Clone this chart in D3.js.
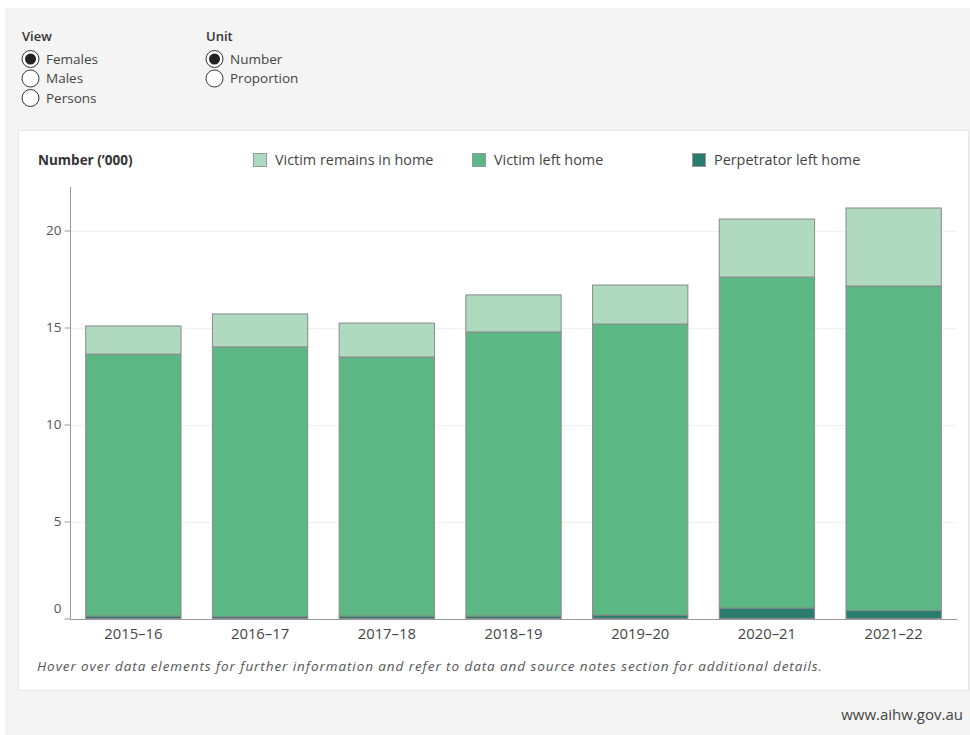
<!DOCTYPE html>
<html><head><meta charset="utf-8">
<script src="https://cdn.jsdelivr.net/npm/d3@7"></script>
<style>
body{margin:0;padding:0;background:#fff;}
svg{display:block;font-family:"Open Sans","Noto Sans",sans-serif;}
</style></head>
<body>
<svg id="c" width="970" height="735"></svg>
<script>
const years = ["2015–16","2016–17","2017–18","2018–19","2019–20","2020–21","2021–22"];
const perpetratorLeft = [0.13, 0.10, 0.13, 0.13, 0.18, 0.54, 0.42];
const victimLeft = [13.50, 13.90, 13.35, 14.64, 15.00, 17.06, 16.72];
const victimRemains = [1.45, 1.70, 1.75, 1.91, 2.01, 2.99, 4.02];
const seriesNames = ["Perpetrator left home","Victim left home","Victim remains in home"];
const seriesColors = ["#2b7d6f","#5bb784","#b0dac0"];
const yTicks = [0,5,10,15,20];
const viewOptions = ["Females","Males","Persons"];
const unitOptions = ["Number","Proportion"];
const FONT = "'Open Sans','Noto Sans',sans-serif";

const svg = d3.select("#c");
svg.append("rect").attr("x",5).attr("y",8).attr("width",965).attr("height",727).attr("fill","#f4f4f4");
svg.append("rect").attr("x",18.5).attr("y",130.5).attr("width",950).attr("height",560).attr("fill","#fff").attr("stroke","#e6e6e6");

function radioGroup(x, title, opts, sel){
  svg.append("text").attr("x",x).attr("y",41).attr("font-size",13).attr("fill","#333").attr("font-weight",600).text(title);
  opts.forEach((o,i)=>{
    const cy = 59 + i*19.5;
    svg.append("circle").attr("cx",x+8.5).attr("cy",cy).attr("r",8.5).attr("fill","#fff").attr("stroke","#333").attr("stroke-width",1);
    if(i===sel) svg.append("circle").attr("cx",x+8.5).attr("cy",cy).attr("r",5.5).attr("fill","#222");
    svg.append("text").attr("x",x+24).attr("y",cy+4.5).attr("font-size",13.5).attr("fill","#444").text(o);
  });
}
radioGroup(22,"View",viewOptions,0);
radioGroup(206,"Unit",unitOptions,0);

const x = d3.scaleBand().domain(years).range([70,957]).paddingInner(0.24).paddingOuter(0.12);
const y = d3.scaleLinear().domain([0,20]).range([618.5,230.5]);

svg.append("g").selectAll("line").data(yTicks.filter(d=>d>0)).join("line")
  .attr("x1",70).attr("x2",957).attr("y1",d=>Math.round(y(d))+0.5).attr("y2",d=>Math.round(y(d))+0.5)
  .attr("stroke","#f0f0f0");

const data = years.map((yr,i)=>({year:yr, p:perpetratorLeft[i], v:victimLeft[i], r:victimRemains[i]}));
const stack = d3.stack().keys(["p","v","r"])(data);
svg.append("g").selectAll("g").data(stack).join("g").attr("fill",(d,i)=>seriesColors[i])
  .selectAll("rect").data(d=>d).join("rect")
  .attr("x",d=>x(d.data.year)+0.5).attr("width",x.bandwidth()-1)
  .attr("y",d=>y(d[1])).attr("height",d=>y(d[0])-y(d[1]))
  .attr("stroke","#8a8a8a").attr("stroke-width",1);

const ya = svg.append("g").attr("transform","translate(70.5,0)")
  .call(d3.axisLeft(y).tickValues(yTicks).tickSize(6).tickFormat(d3.format("d")));
ya.select(".domain").remove();
ya.selectAll(".tick line").attr("stroke","#999");
ya.selectAll(".tick text").attr("font-family",FONT).attr("font-size",13.5).attr("fill","#555").attr("x",-9);
ya.selectAll(".tick").filter(d=>d===0).select("text").attr("dy","-0.45em");
svg.append("line").attr("x1",70.5).attr("x2",70.5).attr("y1",187).attr("y2",619).attr("stroke","#999");

const xa = svg.append("g").attr("transform","translate(0,619)")
  .call(d3.axisBottom(x).tickSize(0).tickPadding(9));
xa.select(".domain").attr("stroke","#999").attr("d","M70,0.5H957");
xa.selectAll(".tick text").attr("font-family",FONT).attr("font-size",14.8).attr("fill","#444");

svg.append("text").attr("x",38).attr("y",165).attr("font-size",13.5).attr("font-weight",700).attr("fill","#333").text("Number (’000)");
const legendItems = [
  {name:seriesNames[2], color:seriesColors[2], x:253},
  {name:seriesNames[1], color:seriesColors[1], x:472},
  {name:seriesNames[0], color:seriesColors[0], x:692}
];
const lg = svg.append("g").selectAll("g").data(legendItems).join("g").attr("transform",d=>`translate(${d.x},153)`);
lg.append("rect").attr("x",0.5).attr("y",0.5).attr("width",13).attr("height",13).attr("fill",d=>d.color).attr("stroke","#999");
lg.append("text").attr("x",22).attr("y",12).attr("font-size",14.4).attr("fill","#444").text(d=>d.name);

svg.append("text").attr("x",37).attr("y",671).attr("font-size",13.5).attr("font-style","italic").attr("fill","#555")
  .attr("textLength",785).attr("lengthAdjust","spacing")
  .text("Hover over data elements for further information and refer to data and source notes section for additional details.");
svg.append("text").attr("x",963).attr("y",720).attr("text-anchor","end").attr("font-size",15).attr("fill","#444").text("www.aihw.gov.au");
</script>
</body></html>
